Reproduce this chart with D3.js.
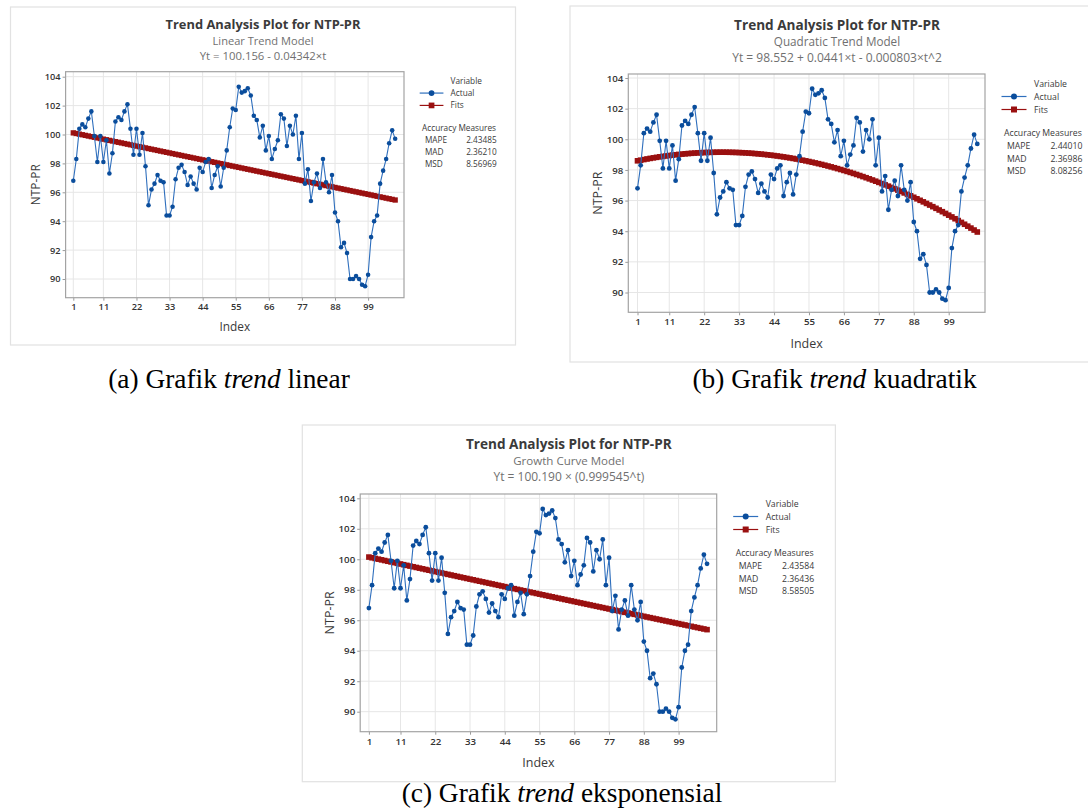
<!DOCTYPE html>
<html><head><meta charset="utf-8">
<script src="https://cdn.jsdelivr.net/npm/d3@7"></script>
<style>body{margin:0;background:#fff}svg{display:block}</style>
</head><body>
<svg id="c" width="1088" height="809"></svg>
<script>
// ---------- DATA ----------
const actual = [96.8,98.3,100.4,100.7,100.5,101.1,101.6,99.9,98.1,99.9,
  98.1,99.6,97.3,98.7,100.9,101.2,101.0,101.6,102.1,100.4,
  98.6,100.4,98.6,100.1,97.8,95.1,96.2,96.6,97.2,96.8,
  96.7,94.4,94.4,95.0,96.9,97.7,97.9,97.4,96.5,97.1,
  96.6,96.2,97.7,97.4,98.1,98.3,96.3,97.2,97.8,96.4,
  97.7,98.9,100.5,101.8,101.7,103.3,102.9,103.0,103.2,102.7,
  101.3,101.0,99.8,100.6,98.9,99.9,98.3,99.0,99.6,101.4,
  101.1,99.2,100.6,100.0,101.3,98.3,100.1,96.6,97.6,95.4,
  96.7,97.3,96.3,98.3,96.7,96.0,97.2,94.6,94.0,92.2,
  92.5,91.8,90.0,90.0,90.2,90.0,89.6,89.5,90.3,92.9,
  94.0,94.4,96.6,97.5,98.3,99.4,100.3,99.7];
const xTicks = [1,11,22,33,44,55,66,77,88,99];
const yTicks = [90,92,94,96,98,100,102,104];
const mainTitle = "Trend Analysis Plot for NTP-PR";
const modelNames = ["Linear Trend Model","Quadratic Trend Model","Growth Curve Model"];
const equations = ["Yt = 100.156 - 0.04342×t","Yt = 98.552 + 0.0441×t - 0.000803×t^2","Yt = 100.190 × (0.999545^t)"];
const measureNames = ["MAPE","MAD","MSD"];
const measuresLinear = ["2.43485","2.36210","8.56969"];
const measuresQuad = ["2.44010","2.36986","8.08256"];
const measuresGrowth = ["2.43584","2.36436","8.58505"];
// model coefficients as printed on the charts
const linearCoef = [100.156, -0.04342];
const quadCoef = [98.552, 0.0441, -0.000803];
const growthCoef = [100.190, 0.999545];
const captionA = ["(a) Grafik ","trend"," linear"];
const captionB = ["(b) Grafik ","trend"," kuadratik"];
const captionC = ["(c) Grafik ","trend"," eksponensial"];

const idx = actual.map((v,i)=>i+1);
const fitsLinear = idx.map(t => linearCoef[0] + linearCoef[1]*t);
const fitsQuad = idx.map(t => quadCoef[0] + quadCoef[1]*t + quadCoef[2]*t*t);
const fitsGrowth = idx.map(t => growthCoef[0] * Math.pow(growthCoef[1], t));

// ---------- LAYOUT ----------
const panels = [
  {s:0.95, frame:[10.5,7,515.5,345], plot:[65.6,71.7,404,297.7], x1:73.3, x99:368.1, y104:76.7, y90:279,
   model:modelNames[0], eq:equations[0], meas:measuresLinear, fits:fitsLinear,
   tw:[195,101,126.7], caption:captionA, capX:229, capY:388},
  {s:1, frame:[570,6,1104,362], plot:[628.3,74,985,312.3], x1:637.5, x99:948.7, y104:78, y90:292.5,
   model:modelNames[1], eq:equations[1], meas:measuresQuad, fits:fitsQuad,
   tw:[206,126.5,210], caption:captionB, capX:834.5, capY:388},
  {s:1, frame:[302.3,425,835.4,781.7], plot:[360.2,494,716.7,731.7], x1:368.9, x99:678.6, y104:498.3, y90:711.7,
   model:modelNames[2], eq:equations[2], meas:measuresGrowth, fits:fitsGrowth,
   tw:[206,111.5,150.8], caption:captionC, capX:562, capY:802}
];

const FONT = "'Segoe UI','Open Sans','Noto Sans',sans-serif";
const BLUE_LINE = "#2f6fbd", BLUE_PT = "#0a4d9c", RED = "#9a1010";
const svg = d3.select("#c");

function fitText(sel, target){
  const l = sel.node().getComputedTextLength();
  const f = parseFloat(sel.attr("font-size"));
  if (l > 0) sel.attr("font-size", f*target/l);
}

panels.forEach(p => {
  const s = p.s;
  const [fl,ft,fr,fb] = p.frame;
  const [pl,pt,pr,pb] = p.plot;
  const g = svg.append("g");
  g.append("rect").attr("x",fl).attr("y",ft).attr("width",fr-fl).attr("height",fb-ft)
    .attr("fill","#fff").attr("stroke","#e2e2e2").attr("stroke-width",1.2);

  const cx = (fl+fr)/2;
  const t1 = g.append("text").attr("x",cx).attr("y",ft+19*s+4.5*s).attr("text-anchor","middle")
    .attr("font-family",FONT).attr("font-weight","bold").attr("font-size",12.5).attr("fill","#3a3a3a").text(mainTitle);
  fitText(t1,p.tw[0]);
  const t2 = g.append("text").attr("x",cx).attr("y",ft+36*s+4*s).attr("text-anchor","middle")
    .attr("font-family",FONT).attr("font-size",11).attr("fill","#707070").text(p.model);
  fitText(t2,p.tw[1]);
  const t3 = g.append("text").attr("x",cx).attr("y",ft+51.7*s+4*s).attr("text-anchor","middle")
    .attr("font-family",FONT).attr("font-size",11).attr("fill","#707070").text(p.eq);
  fitText(t3,p.tw[2]);

  const x = d3.scaleLinear().domain([1,99]).range([p.x1,p.x99]);
  const y = d3.scaleLinear().domain([90,104]).range([p.y90,p.y104]);

  // gridlines
  g.append("g").selectAll("line").data(xTicks).join("line")
    .attr("x1",d=>x(d)).attr("x2",d=>x(d)).attr("y1",pt).attr("y2",pb)
    .attr("stroke","#e6e6e6").attr("stroke-width",1);
  g.append("g").selectAll("line").data(yTicks).join("line")
    .attr("x1",pl).attr("x2",pr).attr("y1",d=>y(d)).attr("y2",d=>y(d))
    .attr("stroke","#e6e6e6").attr("stroke-width",1);

  // axes
  const fsTick = 9.7*s;
  const xa = g.append("g").attr("transform",`translate(0,${pb})`)
    .call(d3.axisBottom(x).tickValues(xTicks).tickSize(3).tickPadding(3));
  const ya = g.append("g").attr("transform",`translate(${pl},0)`)
    .call(d3.axisLeft(y).tickValues(yTicks).tickSize(3).tickPadding(2));
  [xa,ya].forEach(a=>{
    a.select(".domain").remove();
    a.selectAll(".tick line").attr("stroke","#9a9a9a");
    a.selectAll(".tick text").attr("font-family",FONT).attr("font-size",fsTick)
      .attr("fill","#333").attr("font-weight","600");
  });
  g.append("rect").attr("x",pl).attr("y",pt).attr("width",pr-pl).attr("height",pb-pt)
    .attr("fill","none").attr("stroke","#a3a3a3").attr("stroke-width",1.2);

  // axis titles
  g.append("text").attr("x",(pl+pr)/2).attr("y",pb+31*s+4.5*s).attr("text-anchor","middle")
    .attr("font-family",FONT).attr("font-size",12.5*s).attr("fill","#3a3a3a").text("Index");
  g.append("text").attr("transform",`translate(${pl-31*s+4.5*s},${(pt+pb)/2}) rotate(-90)`)
    .attr("text-anchor","middle").attr("font-family",FONT).attr("font-size",12.5*s).attr("fill","#3a3a3a").text("NTP-PR");

  // fits
  const fitLine = d3.line().x((d,i)=>x(idx[i])).y(d=>y(d));
  g.append("path").datum(p.fits).attr("d",fitLine).attr("fill","none").attr("stroke",RED).attr("stroke-width",2.5);
  const sq = 5.6*s;
  g.append("g").selectAll("rect").data(p.fits).join("rect")
    .attr("x",(d,i)=>x(idx[i])-sq/2).attr("y",d=>y(d)-sq/2).attr("width",sq).attr("height",sq)
    .attr("fill",RED);

  // actual
  g.append("path").datum(actual).attr("d",fitLine).attr("fill","none").attr("stroke",BLUE_LINE).attr("stroke-width",1.1);
  g.append("g").selectAll("circle").data(actual).join("circle")
    .attr("cx",(d,i)=>x(idx[i])).attr("cy",d=>y(d)).attr("r",2.4*s).attr("fill",BLUE_PT);

  // legend
  const fsL = 8.7*s;
  const lx = pr + 16.5*s, tx = pr + 49*s;
  const ly = v => pt + v*s;
  const base = v => ly(v) + fsL*0.36;
  const lt = (xx,yy,txt,anchor) => g.append("text").attr("x",xx).attr("y",yy)
    .attr("text-anchor",anchor||"start").attr("font-family",FONT).attr("font-size",fsL).attr("fill","#3a3a3a").text(txt);
  lt(tx, base(10), "Variable");
  g.append("line").attr("x1",lx).attr("x2",lx+25*s).attr("y1",ly(22.5)).attr("y2",ly(22.5)).attr("stroke",BLUE_LINE).attr("stroke-width",1.2);
  g.append("circle").attr("cx",lx+12.5*s).attr("cy",ly(22.5)).attr("r",3*s).attr("fill",BLUE_PT);
  lt(tx, base(22.5), "Actual");
  g.append("line").attr("x1",lx).attr("x2",lx+25*s).attr("y1",ly(35.5)).attr("y2",ly(35.5)).attr("stroke",RED).attr("stroke-width",1.2);
  g.append("rect").attr("x",lx+12.5*s-3*s).attr("y",ly(35.5)-3*s).attr("width",6*s).attr("height",6*s).attr("fill",RED);
  lt(tx, base(35.5), "Fits");
  lt(pr+19*s, base(59), "Accuracy Measures");
  [72,84.5,97].forEach((v,i)=>{
    lt(pr+22*s, base(v), measureNames[i]);
    lt(pr+97.5*s, base(v), p.meas[i], "end");
  });

  // caption
  const cap = svg.append("text").attr("x",p.capX).attr("y",p.capY).attr("text-anchor","middle")
    .attr("font-family","'Liberation Serif','Times New Roman',serif").attr("font-size",27.4).attr("fill","#000");
  cap.append("tspan").text(p.caption[0]);
  cap.append("tspan").attr("font-style","italic").text(p.caption[1]);
  cap.append("tspan").text(p.caption[2]);
});
</script>
</body></html>
